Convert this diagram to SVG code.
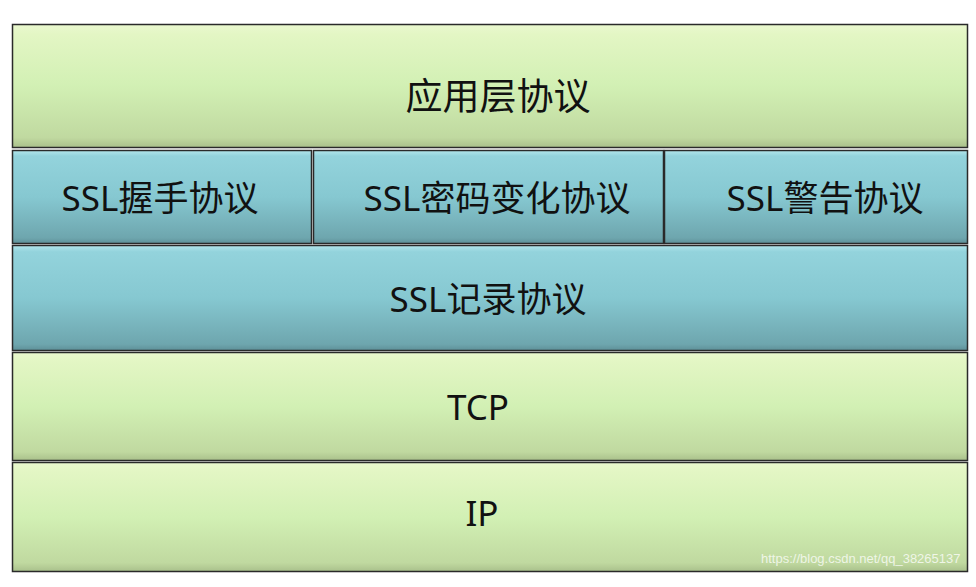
<svg xmlns="http://www.w3.org/2000/svg" width="976" height="587" viewBox="0 0 976 587">
<defs>
<linearGradient id="gGreen" x1="0" y1="0" x2="0" y2="1">
<stop offset="0" stop-color="#eaf8cf"/>
<stop offset="0.08" stop-color="#e3f6c4"/>
<stop offset="0.5" stop-color="#d2f0b4"/>
<stop offset="0.92" stop-color="#c0d9a0"/>
<stop offset="1" stop-color="#a9c08b"/>
</linearGradient>
<linearGradient id="gBlue" x1="0" y1="0" x2="0" y2="1">
<stop offset="0" stop-color="#b3e6ec"/>
<stop offset="0.06" stop-color="#93d3dc"/>
<stop offset="0.5" stop-color="#86c8d1"/>
<stop offset="0.94" stop-color="#6ea6ae"/>
<stop offset="1" stop-color="#5e9098"/>
</linearGradient>
<style>
.box{stroke:#2a2a2a;stroke-width:1.5}
.g{fill:url(#gGreen)}
.b{fill:url(#gBlue)}
.t{font-family:"Noto Sans","Noto Sans CJK SC",sans-serif;font-size:35px;fill:#111;text-anchor:middle;dominant-baseline:central}
.big{font-size:37px}
.wm{font-family:"Liberation Sans",Arial,sans-serif;font-size:13px;fill:#ffffff;fill-opacity:0.75}
</style>
</defs>
<rect x="0" y="0" width="976" height="587" fill="#ffffff"/>
<g id="app">
<rect class="box g" x="12.5" y="24.5" width="955" height="123"/>
<text class="t big" x="498" y="95">应用层协议</text>
</g>
<g id="handshake">
<rect class="box b" x="12.5" y="150.5" width="299" height="93"/>
<text class="t" x="160" y="197">SSL握手协议</text>
</g>
<g id="cipher">
<rect class="box b" x="313.5" y="150.5" width="350" height="93"/>
<text class="t" x="497" y="197">SSL密码变化协议</text>
</g>
<g id="alert">
<rect class="box b" x="664.5" y="150.5" width="303" height="93"/>
<text class="t" x="825" y="197">SSL警告协议</text>
</g>
<g id="record">
<rect class="box b" x="12.5" y="245.5" width="955" height="105"/>
<text class="t" x="488" y="298">SSL记录协议</text>
</g>
<g id="tcp">
<rect class="box g" x="12.5" y="352.5" width="955" height="108"/>
<text class="t" x="478" y="406">TCP</text>
</g>
<g id="ip">
<rect class="box g" x="12.5" y="462.5" width="955" height="109"/>
<text class="t" x="482" y="512">IP</text>
</g>
<g id="connectors"></g>
<text class="wm" x="761" y="563">https://blog.csdn.net/qq_38265137</text>
</svg>
